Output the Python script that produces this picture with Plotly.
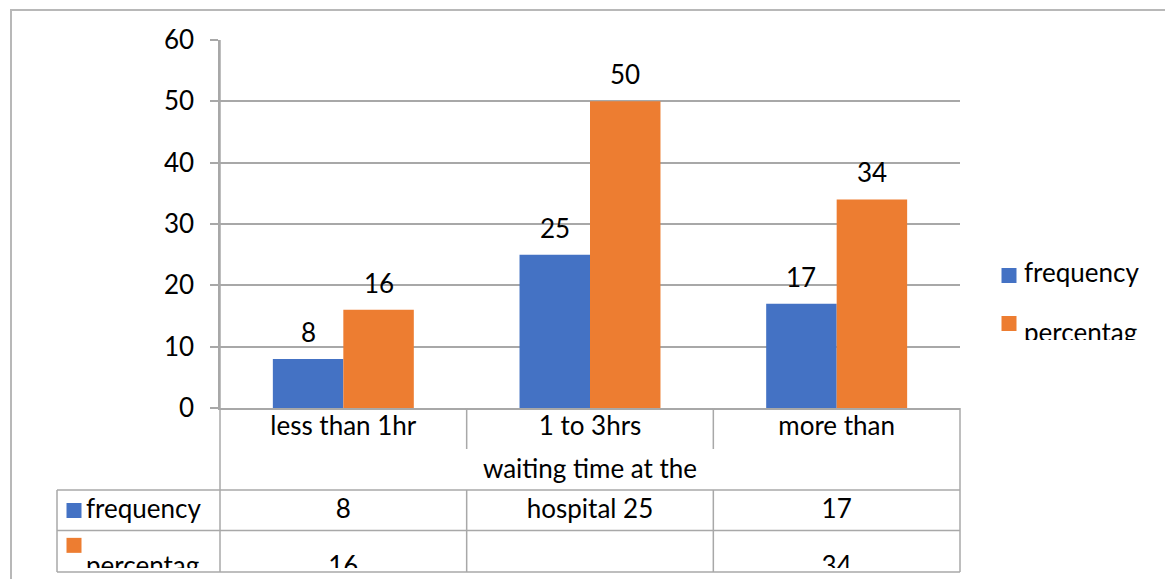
import plotly.graph_objects as go

# ---- data ----
categories = ["less than 1hr", "1 to 3hrs", "more than"]
frequency = [8, 25, 17]
percentage = [16, 50, 34]
series_names = ["frequency", "percentag"]
axis_title_lines = ["waiting time at the", "hospital"]
y_ticks = [0, 10, 20, 30, 40, 50, 60]

# ---- styling ----
W, H = 1165, 579
BLUE = "#4472C4"
ORANGE = "#ED7D31"
GRID = "#A8A8A8"
BORDER = "#B8B8B8"
FONT = "Lato"
FS = 26


def fx(px):
    return px / W


def fy(py):
    return 1 - py / H


# plot area and table geometry (pixels)
PLOT_L, PLOT_R, PLOT_T, PLOT_B = 220, 960, 40, 408
TABLE_L = 57
ROW_H = 41
CLIP_B = 568
TABLE_B = 572

BARGAP = 0.4285
bar_off = (1 - BARGAP) / 4

fig = go.Figure()

fig.add_trace(go.Bar(x=categories, y=frequency, name=series_names[0],
                     marker=dict(color=BLUE, line_width=0), showlegend=False,
                     hoverinfo="skip"))
fig.add_trace(go.Bar(x=categories, y=percentage, name=series_names[1],
                     marker=dict(color=ORANGE, line_width=0), showlegend=False,
                     hoverinfo="skip"))

# value labels above bars
annotations = []
for i, (f, p) in enumerate(zip(frequency, percentage)):
    for off, v in ((-bar_off, f), (bar_off, p)):
        annotations.append(dict(x=i + off, y=v, xref="x", yref="y", text=str(v),
                                showarrow=False, yanchor="bottom", yshift=9,
                                font=dict(family=FONT, size=FS, color="black")))

# ---- data table under the chart (rows on yaxis2, columns on the category axis) ----
row_cat, row_title, row_freq, row_pct = 0.5, 1.55, 2.52, 3.92
txt = dict(family=FONT, size=FS, color="black")

fig.add_trace(go.Scatter(x=categories, y=[row_cat] * 3, yaxis="y2", mode="text",
                         text=categories, textposition="middle center", textfont=txt,
                         cliponaxis=True, showlegend=False, hoverinfo="skip"))
fig.add_trace(go.Scatter(x=[categories[1]], y=[row_title], yaxis="y2", mode="text",
                         text=[axis_title_lines[0]], textposition="middle center",
                         textfont=txt, cliponaxis=True, showlegend=False,
                         hoverinfo="skip"))
freq_cells = [str(v) for v in frequency]
freq_cells[1] = f"{axis_title_lines[1]} {frequency[1]}"
fig.add_trace(go.Scatter(x=categories, y=[row_freq] * 3, yaxis="y2", mode="text",
                         text=freq_cells, textposition="middle center", textfont=txt,
                         cliponaxis=True, showlegend=False, hoverinfo="skip"))
pct_cells = [str(v) for v in percentage]
pct_cells[1] = ""
fig.add_trace(go.Scatter(x=categories, y=[row_pct] * 3, yaxis="y2", mode="text",
                         text=pct_cells, textposition="middle center", textfont=txt,
                         cliponaxis=True, showlegend=False, hoverinfo="skip"))

# series keys in the table's first column (x2 in pixel units)
fig.add_trace(go.Scatter(x=[74, 74], y=[2.5, 3.5 - 0.15], xaxis="x2", yaxis="y2",
                         mode="markers",
                         marker=dict(symbol="square", size=15, color=[BLUE, ORANGE]),
                         cliponaxis=True, showlegend=False, hoverinfo="skip"))
fig.add_trace(go.Scatter(x=[86, 86], y=[row_freq, row_pct], xaxis="x2", yaxis="y2",
                         mode="text", text=series_names, textposition="middle right",
                         textfont=txt, cliponaxis=True, showlegend=False,
                         hoverinfo="skip"))

# ---- legend on the right (x3/y3 in pixel units) ----
fig.add_trace(go.Scatter(x=[1009, 1009], y=[275.5, 323.5], xaxis="x3", yaxis="y3",
                         mode="markers",
                         marker=dict(symbol="square", size=15, color=[BLUE, ORANGE]),
                         cliponaxis=True, showlegend=False, hoverinfo="skip"))
fig.add_trace(go.Scatter(x=[1024, 1024], y=[275, 335], xaxis="x3", yaxis="y3",
                         mode="text", text=series_names, textposition="middle right",
                         textfont=txt, cliponaxis=True, showlegend=False,
                         hoverinfo="skip"))

# ---- table lines and outer border ----
line = dict(color=GRID, width=1.5)
shapes = []


def hline(y, x0, x1):
    shapes.append(dict(type="line", xref="paper", yref="paper", x0=fx(x0), x1=fx(x1),
                       y0=fy(y), y1=fy(y), line=line))


def vline(x, y0, y1, xref="paper"):
    xv = fx(x) if xref == "paper" else x
    shapes.append(dict(type="line", xref=xref, yref="paper", x0=xv, x1=xv,
                       y0=fy(y0), y1=fy(y1), line=line))


for y in (PLOT_B + 2 * ROW_H, PLOT_B + 3 * ROW_H - 0.5, TABLE_B):
    hline(y, TABLE_L, PLOT_R)
vline(TABLE_L, PLOT_B + 2 * ROW_H, TABLE_B)
vline(PLOT_L, PLOT_T, TABLE_B)
vline(PLOT_R, PLOT_B, TABLE_B)
for k in range(len(categories) - 1):
    vline(k + 0.5, PLOT_B, PLOT_B + ROW_H, xref="x")
    vline(k + 0.5, PLOT_B + 2 * ROW_H, TABLE_B, xref="x")

outer = dict(color=BORDER, width=2)
shapes.append(dict(type="line", xref="paper", yref="paper", x0=fx(11), x1=fx(11),
                   y0=fy(10), y1=0, line=outer))
shapes.append(dict(type="line", xref="paper", yref="paper", x0=fx(10), x1=1,
                   y0=fy(10), y1=fy(10), line=outer))

hidden = dict(visible=False, automargin=False, showgrid=False, zeroline=False)

fig.update_layout(
    width=W, height=H,
    margin=dict(l=0, r=0, t=0, b=0, pad=0, autoexpand=False),
    paper_bgcolor="white", plot_bgcolor="rgba(0,0,0,0)",
    barmode="group", bargap=BARGAP, bargroupgap=0,
    font=dict(family=FONT, size=FS, color="black"),
    showlegend=False,
    xaxis=dict(type="category", domain=[fx(PLOT_L), fx(PLOT_R)], range=[-0.5, 2.5],
               showgrid=False, showticklabels=False, ticks="", zeroline=False,
               showline=True, linecolor=GRID, linewidth=1.5, anchor="y",
               automargin=False),
    yaxis=dict(domain=[fy(PLOT_B), fy(PLOT_T)], range=[0, 60], tickvals=y_ticks,
               showgrid=True, gridcolor=GRID, gridwidth=1.5, zeroline=False,
               ticks="outside", ticklen=8, tickcolor=GRID, tickwidth=1.5,
               showline=True, linecolor=GRID, linewidth=1.5,
               ticklabelstandoff=11, automargin=False,
               tickfont=dict(family=FONT, size=FS, color="black"), anchor="x"),
    yaxis2=dict(domain=[fy(CLIP_B), fy(PLOT_B)], range=[(CLIP_B - PLOT_B) / ROW_H, 0],
                anchor="x", **hidden),
    xaxis2=dict(domain=[fx(TABLE_L), fx(PLOT_L)], range=[TABLE_L, PLOT_L],
                anchor="y2", **hidden),
    xaxis3=dict(domain=[fx(PLOT_R), 1], range=[PLOT_R, W], anchor="y3", **hidden),
    yaxis3=dict(domain=[fy(340), fy(250)], range=[340, 250], anchor="x3", **hidden),
    annotations=annotations,
    shapes=shapes,
)

fig.write_html("out.html")
